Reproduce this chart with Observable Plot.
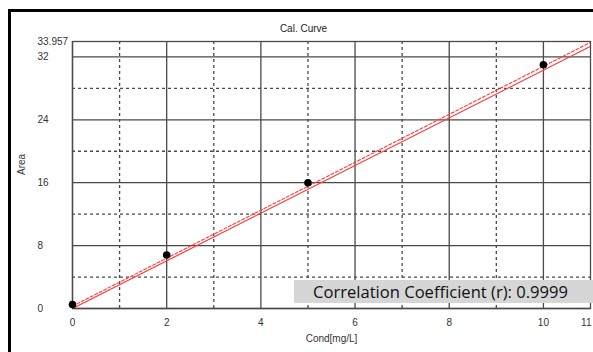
<!DOCTYPE html>
<html>
<head>
<meta charset="utf-8">
<script src="https://cdn.jsdelivr.net/npm/d3@7"></script>
<script src="https://cdn.jsdelivr.net/npm/@observablehq/plot@0.6"></script>
<style>
  html, body { margin: 0; padding: 0; background: #fff; overflow: hidden; }
  #wrap { position: relative; width: 593px; height: 352px; overflow: hidden; }
  #frame { position: absolute; left: 8px; top: 9px; width: 700px; height: 500px; border: 3px solid #000; box-sizing: border-box; pointer-events: none; }
  #corr { position: absolute; left: 294px; top: 280px; width: 299px; height: 23px; background: #d6d6d6; }
  #corr span { position: absolute; left: 19px; top: 0px; line-height: 23px; font-family: "Open Sans", sans-serif; font-size: 17px; color: #111; white-space: nowrap; transform-origin: 0 50%; }
</style>
</head>
<body>
<div id="wrap">
  <div id="chart"></div>
  <div id="frame"></div>
  <div id="corr"><span id="corrText"></span></div>
</div>
<script>
// Data
const concentrations = [0, 2, 5, 10];
const areas = [0.5, 6.8, 16.0, 31.0];
const xMajorTicks = [0, 2, 4, 6, 8, 10];
const xMinorTicks = [1, 3, 5, 7, 9];
const xLabelTicks = [0, 2, 4, 6, 8, 10];
const xEndTick = [11];
const yMajorTicks = [0, 8, 16, 24, 32];
const yMinorTicks = [4, 12, 20, 28];
const yLabelTicks = [0, 8, 16, 24, 32, 33.957];
const xDomain = [0, 11];
const yDomain = [0, 33.957];
const fitSolid = {slope: 3.03, intercept: 0.0};
const fitDashed = {slope: 3.05, intercept: 0.3};
const title = "Cal. Curve";
const xLabel = "Cond[mg/L]";
const yLabel = "Area";
const correlationText = "Correlation Coefficient (r): 0.9999";

const points = concentrations.map((c, i) => ({x: c, y: areas[i]}));
const lineFrom = f => xDomain.map(x => ({x, y: f.slope * x + f.intercept}));

const gridColor = "#4a4a4a";
const chart = Plot.plot({
  width: 593,
  height: 352,
  marginLeft: 72,
  marginRight: 3,
  marginTop: 41,
  marginBottom: 44,
  style: {fontFamily: "'Liberation Sans', Arial, sans-serif", fontSize: "10px", color: "#333", background: "transparent"},
  x: {domain: xDomain},
  y: {domain: yDomain},
  marks: [
    Plot.gridX(xMinorTicks, {stroke: gridColor, strokeOpacity: 1, strokeWidth: 1.3, strokeDasharray: "3,3"}),
    Plot.gridY(yMinorTicks, {stroke: gridColor, strokeOpacity: 1, strokeWidth: 1.3, strokeDasharray: "3,3"}),
    Plot.gridX(xMajorTicks, {stroke: gridColor, strokeOpacity: 1, strokeWidth: 1.3}),
    Plot.gridY(yMajorTicks, {stroke: gridColor, strokeOpacity: 1, strokeWidth: 1.3}),
    Plot.frame({stroke: gridColor, strokeWidth: 1.3}),
    Plot.axisX(xLabelTicks, {tickSize: 0, tickPadding: 10, label: null, fill: "#333"}),
    Plot.axisX(xEndTick, {tickSize: 0, tickPadding: 10, label: null, fill: "#333", textAnchor: "end", dx: 1}),
    Plot.axisY(yLabelTicks, {tickSize: 0, tickPadding: 0, textAnchor: "start", dx: -35, label: null, fill: "#333", tickFormat: d => String(d)}),
    Plot.line(lineFrom(fitDashed), {x: "x", y: "y", stroke: "#ff3b3b", strokeWidth: 1.1, strokeDasharray: "3,2", clip: true}),
    Plot.line(lineFrom(fitSolid), {x: "x", y: "y", stroke: "#ff3b3b", strokeWidth: 1.2, clip: true}),
    Plot.dot(points, {x: "x", y: "y", r: 3.8, fill: "#000", stroke: "none"}),
    Plot.text([title], {text: d => d, frameAnchor: "top", dy: -17, dx: -28, fill: "#222", fontSize: 10}),
    Plot.text([xLabel], {text: d => d, frameAnchor: "bottom", dy: 33, fill: "#333", fontSize: 10}),
    Plot.text([yLabel], {text: d => d, frameAnchor: "left", dx: -51, rotate: -90, fill: "#333", fontSize: 10})
  ]
});
document.getElementById("chart").appendChild(chart);

const span = document.getElementById("corrText");
span.textContent = correlationText;
const w = span.getBoundingClientRect().width;
span.style.transform = `scaleX(${255 / w})`;
</script>
</body>
</html>
